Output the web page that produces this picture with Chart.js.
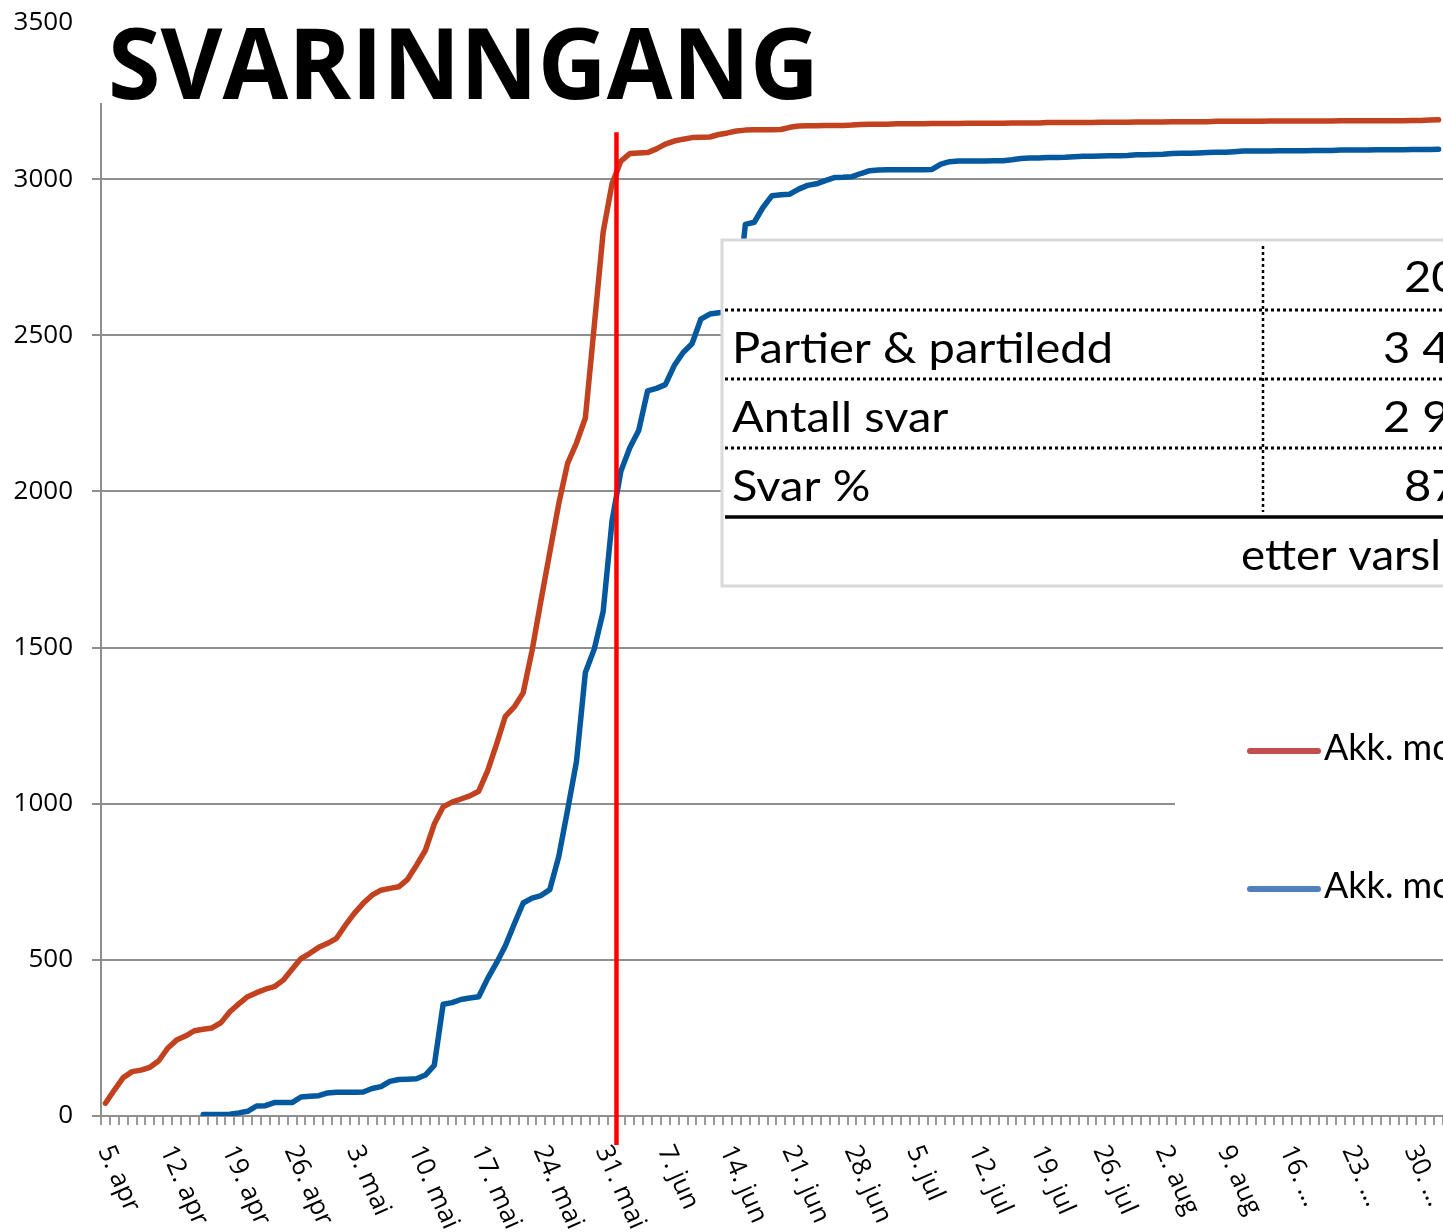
<!DOCTYPE html>
<html>
<head>
<meta charset="utf-8">
<script src="https://cdn.jsdelivr.net/npm/chart.js@4/dist/chart.umd.min.js"></script>
<style>
  html, body { margin: 0; padding: 0; background: #fff; overflow: hidden; }
  #wrap { width: 1443px; height: 1232px; }
</style>
</head>
<body>
<div id="wrap"><canvas id="svarChart" width="1443" height="1232"></canvas></div>
<script>
// kategorier: en per dag fra 5. apr til 2. sep
const maaneder = ["apr", "mai", "jun", "jul", "aug", "sep"];
const dagerIMaaned = [30, 31, 30, 31, 31, 30];
const startDag = 5;
const antallDager = 151;

const datoer = [];
let m = 0, d = startDag;
while (datoer.length < antallDager) {
  datoer.push(d + ". " + maaneder[m]);
  d++;
  if (d > dagerIMaaned[m]) { d = 1; m++; }
}

// etiketter for hver 7. dag
const ukeEtiketter = ["5. apr", "12. apr", "19. apr", "26. apr", "3. mai", "10. mai", "17. mai",
  "24. mai", "31. mai", "7. jun", "14. jun", "21. jun", "28. jun", "5. jul", "12. jul",
  "19. jul", "26. jul", "2. aug", "9. aug", "16. …", "23. …", "30. …"];

const serieRod = [
  41, 83, 123, 142, 147, 156, 177, 217, 243, 256,
  273, 278, 282, 299, 334, 359, 382, 395, 406, 414,
  435, 470, 504, 521, 540, 553, 569, 611, 649, 681,
  707, 723, 729, 734, 758, 803, 851, 935, 990, 1005,
  1015, 1025, 1040, 1105, 1190, 1280, 1310, 1355, 1490, 1650,
  1805, 1960, 2090, 2155, 2235, 2530, 2830, 2985, 3058, 3082,
  3084, 3085, 3097, 3112, 3122, 3128, 3133, 3134, 3135, 3143,
  3148, 3154, 3157, 3158, 3158, 3158, 3159, 3166, 3170, 3171,
  3171, 3172, 3172, 3172, 3173, 3175, 3176, 3176, 3176, 3177,
  3177, 3177, 3177, 3178, 3178, 3178, 3178, 3179, 3179, 3179,
  3179, 3179, 3180, 3180, 3180, 3180, 3181, 3181, 3181, 3181,
  3181, 3181, 3182, 3182, 3182, 3182, 3183, 3183, 3183, 3183,
  3184, 3184, 3184, 3184, 3184, 3185, 3185, 3185, 3185, 3185,
  3185, 3186, 3186, 3186, 3186, 3186, 3186, 3186, 3186, 3187,
  3187, 3187, 3187, 3187, 3187, 3187, 3187, 3188, 3188, 3189,
  3190
];

const serieBla = [
  null, null, null, null, null, null, null, null, null, null,
  null, 5, 5, 5, 6, 10, 15, 32, 33, 43,
  43, 43, 61, 63, 65, 74, 76, 76, 76, 77,
  88, 94, 111, 117, 118, 119, 131, 162, 358, 363,
  373, 378, 382, 440, 490, 545, 615, 682, 698, 706,
  725, 830, 980, 1135, 1420, 1495, 1615, 1905, 2065, 2140,
  2195, 2322, 2330, 2342, 2403, 2445, 2473, 2552, 2568, 2572,
  2575, 2580, 2855, 2862, 2910, 2947, 2950, 2952, 2968, 2980,
  2985, 2995, 3005, 3006, 3008, 3018, 3027, 3029, 3030, 3030,
  3030, 3030, 3030, 3031, 3048, 3056, 3058, 3058, 3058, 3058,
  3059, 3059, 3062, 3066, 3068, 3068, 3069, 3069, 3070, 3072,
  3073, 3073, 3074, 3075, 3075, 3076, 3078, 3078, 3079, 3080,
  3082, 3083, 3083, 3084, 3085, 3086, 3086, 3088, 3090, 3090,
  3090, 3090, 3091, 3091, 3091, 3091, 3092, 3092, 3092, 3093,
  3093, 3093, 3093, 3094, 3094, 3094, 3094, 3095, 3095, 3095,
  3096
];

// tabellen oppe til hoyre
const tabellRader = ["Partier & partiledd", "Antall svar", "Svar %"];
const tabellVerdier = ["3 430", "2 990", "87 %"];
const tabellAar = "2021";
const tabellFotnote = "etter varsling";
const fristDato = "1. jun";

function tekst(ctx, s, x, yb, font, sx) {
  ctx.save();
  ctx.font = font;
  ctx.translate(x, yb);
  ctx.scale(sx || 1, 1);
  ctx.fillText(s, 0, 0);
  ctx.restore();
}

const overlay = {
  id: "overlay",
  afterDraw(chart) {
    const ctx = chart.ctx;
    const x = chart.scales.x;
    const y = chart.scales.y;
    const W = chart.width;

    ctx.save();

    // x-etiketter, rotert nedover
    ctx.fillStyle = "#000";
    ctx.font = '26px "Open Sans"';
    ctx.textAlign = "left";
    ctx.textBaseline = "middle";
    ukeEtiketter.forEach((t, k) => {
      const px = x.getPixelForValue(k * 7);
      ctx.save();
      ctx.translate(px - 1, x.top + 31);
      ctx.rotate(66 * Math.PI / 180);
      ctx.fillText(t, 0, 0);
      ctx.restore();
    });

    // rod frist-linje
    const fx = x.getPixelForValue(datoer.indexOf(fristDato) + 0.5);
    ctx.strokeStyle = "#ff0000";
    ctx.lineWidth = 4.5;
    ctx.beginPath();
    ctx.moveTo(fx, y.getPixelForValue(3150));
    ctx.lineTo(fx, x.top + 29);
    ctx.stroke();

    // tittel
    ctx.fillStyle = "#fff";
    ctx.fillRect(80, 0, W - 80, 103);
    ctx.fillStyle = "#000";
    ctx.textAlign = "left";
    ctx.textBaseline = "alphabetic";
    ctx.font = 'bold 99px "Open Sans"';
    const tw = ctx.measureText("SVARINNGANG").width;
    tekst(ctx, "SVARINNGANG", 108, 99, 'bold 99px "Open Sans"', 711 / tw);

    // tabell
    ctx.fillStyle = "#fff";
    ctx.fillRect(722, 240, W, 346);
    ctx.strokeStyle = "#d9d9d9";
    ctx.lineWidth = 3;
    ctx.strokeRect(722, 240, W, 346);

    ctx.strokeStyle = "#000";
    ctx.lineWidth = 3;
    ctx.setLineDash([3, 3]);
    [310, 379, 448].forEach(ly => {
      ctx.beginPath(); ctx.moveTo(725, ly); ctx.lineTo(W, ly); ctx.stroke();
    });
    ctx.lineWidth = 2.5;
    ctx.beginPath(); ctx.moveTo(1263, 246); ctx.lineTo(1263, 512); ctx.stroke();
    ctx.setLineDash([]);
    ctx.lineWidth = 3.5;
    ctx.beginPath(); ctx.moveTo(725, 517); ctx.lineTo(W, 517); ctx.stroke();

    ctx.fillStyle = "#000";
    const tFont = '43px "Lato"';
    ctx.font = tFont;
    const sx = 381 / ctx.measureText(tabellRader[0]).width;
    tekst(ctx, tabellAar, 1404, 292, tFont, sx);
    tabellRader.forEach((r, i) => {
      const yb = 363 + i * 69;
      tekst(ctx, r, 732, yb, tFont, sx);
    });
    tekst(ctx, tabellVerdier[0], 1383, 363, tFont, sx);
    tekst(ctx, tabellVerdier[1], 1383, 432, tFont, sx);
    tekst(ctx, tabellVerdier[2], 1404, 501, tFont, sx);
    tekst(ctx, tabellFotnote, 1241, 570, tFont, sx * 0.97);

    // forklaring
    ctx.fillStyle = "#fff";
    ctx.fillRect(1175, 690, W, 250);
    const lFont = '36px "Lato"';
    chart.data.datasets.forEach((ds, i) => {
      const ly = i === 0 ? 751 : 889;
      ctx.strokeStyle = ds.legendColor;
      ctx.lineWidth = 6;
      ctx.lineCap = "round";
      ctx.beginPath(); ctx.moveTo(1250, ly); ctx.lineTo(1318, ly); ctx.stroke();
      ctx.fillStyle = "#000";
      tekst(ctx, ds.label, 1324, ly + 9, lFont, 1.0);
    });

    ctx.restore();
  }
};

new Chart(document.getElementById("svarChart"), {
  type: "line",
  data: {
    labels: datoer,
    datasets: [
      {
        label: "Akk. mottatt 2021",
        data: serieRod,
        borderColor: "#c2421f",
        legendColor: "#c0504d",
        borderWidth: 5.5,
        pointRadius: 0,
        tension: 0,
        borderJoinStyle: "round",
        borderCapStyle: "round"
      },
      {
        label: "Akk. mottatt 2017",
        data: serieBla,
        borderColor: "#03589e",
        legendColor: "#4f81bd",
        borderWidth: 5.5,
        pointRadius: 0,
        tension: 0,
        borderJoinStyle: "round",
        borderCapStyle: "round"
      }
    ]
  },
  options: {
    responsive: false,
    animation: false,
    layout: { padding: { top: 23, left: 0, right: 0, bottom: 0 } },
    plugins: { legend: { display: false }, tooltip: { enabled: false } },
    scales: {
      x: {
        type: "category",
        offset: true,
        grid: { offset: true, drawOnChartArea: false, drawTicks: true, tickLength: 9, color: "#999", lineWidth: 2 },
        border: { color: "#8e8e8e", width: 2 },
        ticks: { display: false, autoSkip: false },
        afterFit(s) { s.height = 116; }
      },
      y: {
        min: 0,
        max: 3500,
        grid: { color: "#8e8e8e", lineWidth: 2, tickLength: 9 },
        border: { color: "#8e8e8e", width: 2 },
        ticks: {
          stepSize: 500, padding: 19, color: "#000",
          font: { family: "Open Sans", size: 26 },
          callback: v => String(v)
        },
        afterFit(s) { s.width = 101; s.paddingTop = 0; s.paddingBottom = 0; }
      }
    }
  },
  plugins: [overlay]
});
</script>
</body>
</html>
